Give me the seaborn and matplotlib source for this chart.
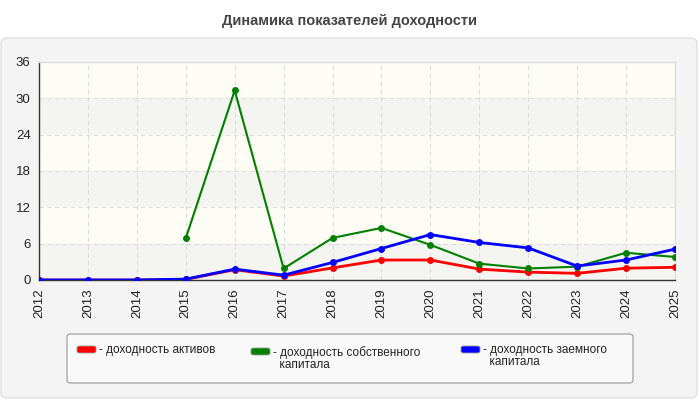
import numpy as np
import pandas as pd
import matplotlib
matplotlib.use('Agg')
import matplotlib.pyplot as plt
import seaborn as sns
from matplotlib.patches import FancyBboxPatch

# Data
years = list(range(2012, 2026))
roa = [0, 0, 0, 0.1, 1.7, 0.65, 2.0, 3.3, 3.3, 1.8, 1.3, 1.1, 1.95, 2.1]
roe = [np.nan, np.nan, np.nan, 6.9, 31.3, 1.9, 6.95, 8.6, 5.8, 2.7, 1.9, 2.2, 4.5, 3.8]
rod = [0, 0, 0, 0.15, 1.8, 0.8, 2.9, 5.2, 7.5, 6.2, 5.3, 2.3, 3.3, 5.1]

labels = ['- доходность активов',
          '- доходность собственного\n  капитала',
          '- доходность заемного\n  капитала']
colors = ['#ff0000', '#008000', '#0000ff']

sns.set_style('white')
plt.rcParams['font.family'] = ['Liberation Sans', 'DejaVu Sans']

W, H = 700, 400
fig = plt.figure(figsize=(7, 4), dpi=100)
fig.patch.set_facecolor('white')


def fx(px):
    return px / W


def fy(py):
    return 1 - py / H


# gray panel behind the chart
panel = FancyBboxPatch((fx(1), fy(398)), fx(696), 360 / H,
                       boxstyle='round,pad=0,rounding_size=0.012',
                       transform=fig.transFigure, facecolor='#f4f4f4',
                       edgecolor='#e0e0e0', linewidth=1, zorder=0)
fig.add_artist(panel)

fig.text(0.5, 0.948, 'Динамика показателей доходности', ha='center', va='center',
         fontsize=10.5, fontweight='bold', color='#444444')

ax = fig.add_axes([fx(39), fy(280), fx(636), 218 / H])
ax.set_facecolor('#fdfdf6')
for i, lo in enumerate(range(0, 36, 6)):
    if i % 2 == 0:
        ax.axhspan(lo, lo + 6, color='#f4f4f0', zorder=0, lw=0)

df = pd.DataFrame({'year': years, 'roa': roa, 'roe': roe, 'rod': rod})
for col, c, lw in zip(['roa', 'roe', 'rod'], colors, [2, 1.5, 2]):
    sns.lineplot(data=df, x='year', y=col, ax=ax, color=c, marker='o',
                 markersize=5, markeredgewidth=0, linewidth=lw, zorder=3)

ax.set_xlim(2012, 2025)
ax.set_ylim(0, 36)
ax.set_xticks(years)
ax.set_xticklabels([str(y) for y in years], rotation=90)
ax.set_yticks(range(0, 37, 6))
ax.set_xlabel('')
ax.set_ylabel('')
ax.grid(True, color='#dddddd', linestyle=(0, (4, 3)), linewidth=0.8, zorder=1)
ax.set_axisbelow(True)
ax.tick_params(axis='both', labelsize=9.5, colors='#333333', length=4,
               width=1, direction='out', pad=2)
ax.tick_params(axis='both', labelcolor='#222222')
for s in ['left', 'bottom']:
    ax.spines[s].set_color('#333333')
    ax.spines[s].set_linewidth(1)
for s in ['top', 'right']:
    ax.spines[s].set_color('#dddddd')
    ax.spines[s].set_linewidth(1)

# legend box drawn by hand so the swatch sits beside the first text line
frame = FancyBboxPatch((fx(67), fy(383)), fx(566), 49 / H,
                       boxstyle='round,pad=0,rounding_size=0.006',
                       transform=fig.transFigure, facecolor='#f9f9f9',
                       edgecolor='#aaaaaa', linewidth=1, zorder=1)
fig.add_artist(frame)
entry_x = [77, 251, 461]
entry_y = [346, 348, 346]
for lab, c, x0, y0 in zip(labels, colors, entry_x, entry_y):
    sw = FancyBboxPatch((fx(x0), fy(y0 + 7)), fx(19), 7 / H,
                        boxstyle='round,pad=0,rounding_size=0.004',
                        transform=fig.transFigure, facecolor=c,
                        edgecolor='#999999', linewidth=0.6, zorder=2)
    fig.add_artist(sw)
    fig.text(fx(x0 + 22), fy(y0 - 2), lab, ha='left', va='top', fontsize=8.5,
             color='#222222', linespacing=1.0, zorder=3)

fig.savefig('out.png', dpi=100)
